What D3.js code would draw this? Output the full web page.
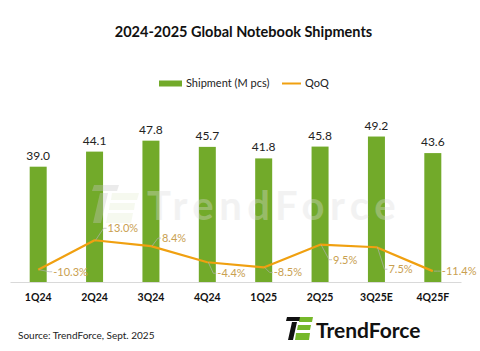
<!DOCTYPE html>
<meta charset="utf-8">
<script src="https://d3js.org/d3.v7.min.js"></script>
<style>
  body { margin: 0; background: #fff; }
  text { font-family: Lato, "Open Sans", sans-serif; }
</style>
<div id="my_dataviz"></div>
<script>

// data
var quarters = ["1Q24", "2Q24", "3Q24", "4Q24", "1Q25", "2Q25", "3Q25E", "4Q25F"];
var shipments = [39.0, 44.1, 47.8, 45.7, 41.8, 45.8, 49.2, 43.6];
var qoq = [-10.3, 13.0, 8.4, -4.4, -8.5, 9.5, 7.5, -11.4];

// where each QoQ label sits relative to its point (layout only)
var labelOffset = [[15, 2], [13, -12], [11, -8], [10, 11], [10, 5], [13, 15], [12, 22], [9, 0]];

var W = 480, H = 351;
var green = "#72aa2a", orange = "#f0a010", tan = "#c9a050";

var svg = d3.select("#my_dataviz")
  .append("svg")
    .attr("width", W)
    .attr("height", H);

// title
svg.append("text")
  .attr("x", 243.5).attr("y", 37)
  .attr("text-anchor", "middle")
  .style("font-size", "14.5px").style("font-weight", "bold")
  .style("fill", "#111")
  .text("2024-2025 Global Notebook Shipments");

// legend
svg.append("rect").attr("x", 159).attr("y", 80.5).attr("width", 23).attr("height", 6).style("fill", green);
svg.append("text").attr("x", 186).attr("y", 87).style("font-size", "11px").style("fill", "#222").text("Shipment (M pcs)");
svg.append("line").attr("x1", 282).attr("x2", 301).attr("y1", 83.5).attr("y2", 83.5).style("stroke", orange).style("stroke-width", 2);
svg.append("text").attr("x", 305).attr("y", 87).style("font-size", "11px").style("fill", "#222").text("QoQ");

// scales
var x = d3.scaleBand().domain(quarters).range([10, 461]);
var y = d3.scaleLinear().domain([0, 60]).range([282, 104.6]);
var y2 = d3.scaleLinear().domain([-20, 120]).range([282, 105]);
var bw = 17;
var cx = function (d) { return x(d) + x.bandwidth() / 2; };

// bars
svg.append("g")
  .selectAll("rect")
  .data(quarters)
  .enter()
  .append("rect")
    .attr("x", function (d) { return cx(d) - bw / 2; })
    .attr("width", bw)
    .attr("y", function (d, i) { return y(shipments[i]); })
    .attr("height", function (d, i) { return y(0) - y(shipments[i]); })
    .style("fill", green);

// bar values
svg.append("g")
  .selectAll("text")
  .data(quarters)
  .enter()
  .append("text")
    .attr("x", function (d) { return cx(d); })
    .attr("y", function (d, i) { return y(shipments[i]) - 7; })
    .attr("text-anchor", "middle")
    .style("font-size", "12px")
    .style("fill", "#222")
    .text(function (d, i) { return shipments[i].toFixed(1); });

// x axis
var xAxis = svg.append("g")
  .attr("transform", "translate(0," + y(0) + ")")
  .call(d3.axisBottom(x).tickSize(0).tickPadding(12));
xAxis.select(".domain").style("stroke", "#d9d9d9");
xAxis.selectAll("text")
  .style("font-family", "Lato, sans-serif")
  .style("font-size", "10.5px").style("font-weight", "bold").style("fill", "#111");

// watermark
var wm = svg.append("g").style("opacity", 0.35);
wm.append("text")
  .attr("x", 147).attr("y", 220)
  .style("font-size", "40px").style("font-weight", "bold")
  .style("letter-spacing", "5.5px")
  .style("fill", "#dcdcdc")
  .text("TrendForce");
wm.append("path")
  .attr("d", "M94,185 L119,185 L117,191 L92,191 Z M100,193 L108,193 L101,223 L93,223 Z")
  .style("fill", "#c8c8c8");
wm.append("path")
  .attr("d", "M112,193 L139,193 L137,200 L111,200 Z M110,203 L135,203 L134,210 L109,210 Z M108,213 L133,213 L131,223 L106,223 Z")
  .style("fill", "#e6efd4");

// QoQ line
var line = d3.line()
  .x(function (d) { return cx(d); })
  .y(function (d, i) { return y2(qoq[i]); });
svg.append("path")
  .datum(quarters)
  .attr("d", line)
  .style("fill", "none")
  .style("stroke", orange)
  .style("stroke-width", 2.2)
  .style("stroke-linejoin", "round");

// leader lines + QoQ labels
svg.append("g")
  .selectAll("path")
  .data(quarters)
  .enter()
  .append("path")
    .attr("d", function (d, i) {
      var px = cx(d), py = y2(qoq[i]);
      var lx = px + labelOffset[i][0], ly = py + labelOffset[i][1];
      return "M" + (px + 1) + "," + py + "L" + (lx - 4) + "," + ly + "L" + (lx - 1) + "," + ly;
    })
    .style("fill", "none")
    .style("stroke", "#b0b0b0")
    .style("stroke-width", 0.7);

svg.append("g")
  .selectAll("text")
  .data(quarters)
  .enter()
  .append("text")
    .attr("x", function (d, i) { return cx(d) + labelOffset[i][0]; })
    .attr("y", function (d, i) { return y2(qoq[i]) + labelOffset[i][1] + 4; })
    .style("font-size", "11px")
    .style("fill", tan)
    .text(function (d, i) { return qoq[i].toFixed(1) + "%"; });

// source
svg.append("text")
  .attr("x", 18).attr("y", 339)
  .style("font-size", "10px").style("fill", "#222")
  .text("Source: TrendForce, Sept. 2025");

// logo
svg.append("path")
  .attr("d", "M287,317 L301,317 L300,321 L286,321 Z M292,322 L297,322 L293,340 L288,340 Z")
  .style("fill", "#111");
svg.append("path")
  .attr("d", "M300,317 L313,317 L312,322 L299,322 Z M298,325 L311,325 L310,330 L297,330 Z M296,333 L310,333 L309,340 L295,340 Z")
  .style("fill", "#76b82a");
svg.append("text")
  .attr("x", 316).attr("y", 338)
  .style("font-size", "21px").style("font-weight", "bold").style("fill", "#111")
  .text("TrendForce");

</script>
